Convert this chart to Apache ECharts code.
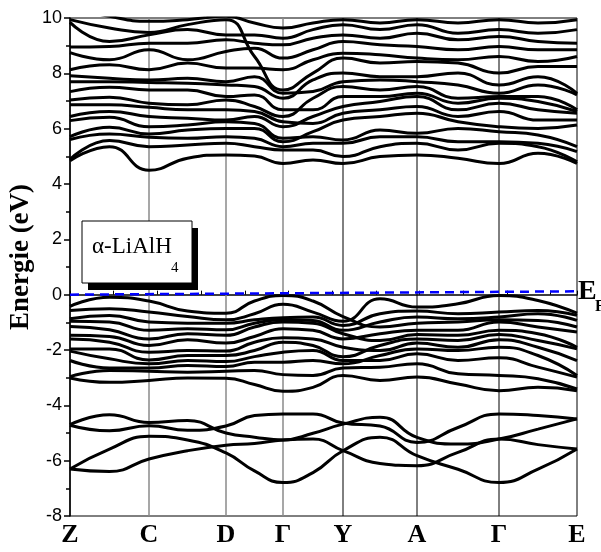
<!DOCTYPE html>
<html>
<head>
<meta charset="utf-8">
<title>alpha-LiAlH4 band structure</title>
<script src="https://cdn.jsdelivr.net/npm/echarts@6/dist/echarts.min.js"></script>
<style>
    html, body { margin: 0; padding: 0; background: #fff; }
    #main { width: 601px; height: 552px; }
</style>
</head>
<body>
<div id="main"></div>
<script>
// points de haute symetrie (abscisse en distance k)
var kPos = [0, 79, 156, 213, 273, 347, 429, 507];
var kLabels = ['Z', 'C', 'D', 'Γ', 'Y', 'A', 'Γ', 'E'];
// abscisses ou les bandes sont lues
var kSample = [0, 39.5, 79, 117.5, 156, 184.5, 213, 243, 273, 310, 347, 388, 429, 468, 507];

// niveau de Fermi (gauche, droite)
var fermiLeft = 0;
var fermiRight = 0.12;

// bandes basses (-7 .. -4 eV)
var lowBands = [
    [-4.70, -4.34, -4.62, -4.55, -5.00, -5.15, -5.25, -5.01, -4.68, -4.43, -5.16, -5.40, -5.22, -4.86, -4.49],
    [-4.72, -4.92, -4.74, -4.90, -4.75, -4.37, -4.31, -4.31, -4.64, -4.75, -5.34, -4.80, -4.31, -4.37, -4.49],
    [-6.30, -5.58, -5.12, -5.25, -5.72, -6.37, -6.79, -6.43, -5.64, -5.15, -5.82, -6.31, -6.79, -6.31, -5.58],
    [-6.30, -6.39, -5.94, -5.64, -5.44, -5.38, -5.25, -5.22, -5.64, -6.10, -6.18, -5.70, -5.22, -5.42, -5.58]
];

// bandes de valence (-3.5 .. 0 eV)
var valenceBands = [
    [-0.42, -0.09, -0.23, -0.59, -0.67, -0.23, -0.03, -0.23, -0.79, -1.17, -1.03, -0.99, -0.91, -0.93, -1.17],
    [-0.57, -0.51, -0.63, -0.79, -0.91, -0.69, -0.35, -0.63, -0.96, -0.15, -0.45, -0.33, -0.03, -0.21, -0.67],
    [-0.87, -0.75, -0.99, -1.03, -1.03, -0.91, -0.83, -0.81, -1.11, -0.69, -0.59, -0.69, -0.63, -0.57, -0.75],
    [-0.96, -0.99, -1.29, -1.23, -1.27, -1.03, -0.91, -0.93, -1.29, -0.99, -0.81, -0.87, -0.81, -0.69, -0.93],
    [-1.15, -1.27, -1.60, -1.41, -1.47, -1.17, -0.99, -1.03, -1.41, -1.66, -1.44, -1.47, -1.29, -1.41, -1.90],
    [-1.47, -1.51, -1.84, -1.63, -1.75, -1.51, -1.23, -1.29, -1.60, -1.41, -1.29, -1.29, -0.99, -1.17, -1.35],
    [-1.60, -1.72, -2.08, -2.02, -2.04, -1.72, -1.56, -1.60, -1.90, -2.02, -1.75, -1.90, -1.63, -1.90, -2.38],
    [-1.96, -1.96, -2.36, -2.20, -2.20, -2.02, -1.72, -1.84, -2.24, -1.84, -1.60, -1.66, -1.44, -1.66, -1.96],
    [-2.04, -2.32, -2.50, -2.38, -2.42, -2.24, -2.08, -2.02, -2.38, -2.38, -2.14, -2.38, -2.28, -2.62, -2.98],
    [-2.38, -2.65, -2.65, -2.56, -2.60, -2.44, -2.44, -2.38, -2.50, -2.20, -1.96, -2.02, -1.90, -2.20, -2.92],
    [-2.96, -2.74, -2.77, -2.80, -2.77, -2.74, -2.89, -2.92, -2.65, -2.62, -2.50, -2.86, -2.92, -3.04, -3.41],
    [-3.01, -3.17, -3.10, -3.01, -3.02, -3.25, -3.49, -3.35, -2.92, -3.10, -2.98, -3.23, -3.47, -3.35, -3.47]
];

// bandes de conduction (4.5 .. 10 eV)
var conductionBands = [
    [10.42, 10.06, 9.88, 9.94, 10.06, 9.82, 9.64, 9.82, 9.94, 9.82, 9.94, 9.82, 9.94, 9.82, 9.94],
    [9.94, 9.64, 9.48, 9.76, 9.94, 8.61, 7.40, 8.01, 8.55, 8.37, 8.43, 8.37, 8.01, 8.25, 8.25],
    [9.84, 9.15, 9.39, 9.58, 9.39, 9.39, 9.27, 9.58, 9.76, 9.58, 9.76, 9.45, 9.58, 9.45, 9.58],
    [8.95, 8.97, 9.09, 9.09, 9.21, 9.09, 9.03, 9.27, 9.39, 9.27, 9.45, 9.21, 9.33, 9.15, 9.09],
    [8.75, 8.49, 8.85, 8.49, 8.79, 8.91, 8.55, 8.85, 9.15, 9.03, 8.97, 8.85, 8.97, 8.85, 8.85],
    [8.13, 8.31, 8.13, 8.37, 8.19, 8.19, 8.13, 8.49, 8.73, 8.67, 8.55, 8.49, 8.61, 8.43, 8.61],
    [7.91, 7.82, 7.76, 7.82, 7.70, 7.88, 7.28, 7.34, 7.70, 7.76, 7.70, 7.58, 7.28, 7.58, 7.22],
    [7.70, 7.70, 7.67, 7.64, 7.58, 7.52, 7.10, 7.76, 8.01, 7.88, 7.88, 8.01, 7.58, 7.88, 7.28],
    [7.34, 7.50, 7.40, 7.40, 7.16, 7.22, 6.68, 6.68, 7.16, 7.16, 7.28, 6.92, 7.10, 6.98, 6.62],
    [7.04, 7.14, 6.92, 6.86, 7.04, 6.80, 6.44, 7.10, 7.52, 7.40, 7.52, 7.10, 7.16, 7.16, 6.68],
    [6.86, 6.86, 6.77, 6.68, 6.68, 6.62, 6.25, 6.19, 6.56, 6.68, 6.80, 6.44, 6.62, 6.31, 6.31],
    [6.44, 6.62, 6.44, 6.38, 6.31, 6.44, 6.07, 6.44, 6.80, 6.98, 7.16, 6.68, 6.92, 6.68, 6.56],
    [6.29, 6.41, 6.07, 6.13, 6.25, 6.19, 5.65, 5.71, 5.59, 5.95, 5.83, 6.01, 5.89, 5.77, 5.35],
    [5.71, 6.05, 5.81, 5.95, 6.01, 6.01, 5.53, 5.89, 6.31, 6.44, 6.56, 6.25, 6.07, 6.01, 6.13],
    [5.61, 5.81, 5.69, 5.65, 5.71, 5.65, 5.35, 5.47, 5.47, 5.71, 5.71, 5.53, 5.53, 5.47, 5.17],
    [4.89, 5.57, 5.35, 5.41, 5.47, 5.35, 5.23, 5.23, 4.99, 5.35, 5.47, 5.23, 5.47, 5.35, 4.80],
    [4.84, 5.35, 4.50, 4.93, 5.05, 5.01, 4.74, 4.87, 4.74, 4.99, 5.05, 4.93, 4.74, 5.11, 4.74]
];

var myChart = echarts.init(document.getElementById('main'));
var series = [];

// lignes verticales aux points de haute symetrie (C, D, Γ gris ; Y, A, Γ noir)
for (var i = 1; i < kPos.length - 1; i++) {
    series.push({
        type: 'line',
        data: [[kPos[i], -8], [kPos[i], 10]],
        symbol: 'none',
        silent: true,
        z: 1,
        lineStyle: { color: i <= 3 ? '#8a8a8a' : '#000', width: i <= 3 ? 1.5 : 1 }
    });
}

// toutes les bandes
var allBands = lowBands.concat(valenceBands, conductionBands);
allBands.forEach(function (band) {
    series.push({
        type: 'line',
        data: band.map(function (e, j) { return [kSample[j], e]; }),
        symbol: 'none',
        smooth: 0.5,
        silent: true,
        z: 3,
        lineStyle: { color: '#000', width: 3 }
    });
});

// niveau de Fermi
series.push({
    type: 'line',
    data: [[0, fermiLeft], [kPos[kPos.length - 1], fermiRight]],
    symbol: 'none',
    silent: true,
    z: 4,
    lineStyle: { color: '#0000ff', width: 2.5, type: [9, 6] }
});

var option = {
    animation: false,
    backgroundColor: '#fff',
    grid: {
        left: 70, right: 24, top: 18, bottom: 36,
        show: true, borderColor: '#000', borderWidth: 1
    },
    xAxis: {
        type: 'value',
        min: 0,
        max: 507,
        interval: 43.7,
        axisLine: { lineStyle: { color: '#000', width: 1.5 } },
        axisTick: { inside: true, length: 4, lineStyle: { color: '#000' } },
        splitLine: { show: false },
        axisLabel: {
            customValues: kPos,
            margin: 6,
            color: '#000',
            fontFamily: 'Liberation Serif',
            fontWeight: 'bold',
            fontSize: 26,
            formatter: function (v) {
                var idx = kPos.indexOf(v);
                return idx >= 0 ? kLabels[idx] : '';
            }
        }
    },
    yAxis: {
        type: 'value',
        min: -8,
        max: 10,
        interval: 2,
        axisLine: { lineStyle: { color: '#000', width: 1.5 } },
        axisTick: { length: 6, lineStyle: { color: '#000', width: 1.5 } },
        minorTick: { show: true, splitNumber: 2, length: 4, lineStyle: { color: '#000', width: 1.5 } },
        splitLine: { show: false },
        axisLabel: {
            margin: 8,
            color: '#000',
            fontFamily: 'Liberation Sans',
            fontSize: 18
        }
    },
    graphic: [
        // titre de l'axe y
        { type: 'text', x: 21, y: 257, rotation: Math.PI / 2, z: 12,
          style: { text: 'Energie (eV)', fill: '#000', font: 'bold 27px "Liberation Serif"', align: 'center', verticalAlign: 'middle' } },
        // ombre + cadre de la legende
        { type: 'rect', shape: { x: 88, y: 228, width: 110, height: 62 }, style: { fill: '#000' }, z: 10 },
        { type: 'rect', shape: { x: 82, y: 221, width: 110, height: 62 }, style: { fill: '#fff', stroke: '#000', lineWidth: 1 }, z: 11 },
        { type: 'text', x: 92, y: 247, z: 12,
          style: { text: 'α-LiAlH', fill: '#000', font: '23px "Liberation Serif"', verticalAlign: 'middle' } },
        { type: 'text', x: 171, y: 268, z: 12,
          style: { text: '4', fill: '#000', font: '15px "Liberation Serif"', verticalAlign: 'middle' } },
        // E_F
        { type: 'text', x: 578, y: 292, z: 12,
          style: { text: 'E', fill: '#000', font: 'bold 28px "Liberation Serif"', verticalAlign: 'middle' } },
        { type: 'text', x: 595, y: 307, z: 12,
          style: { text: 'F', fill: '#000', font: 'bold 16px "Liberation Serif"', verticalAlign: 'middle' } }
    ],
    series: series
};

myChart.setOption(option);
</script>
</body>
</html>
